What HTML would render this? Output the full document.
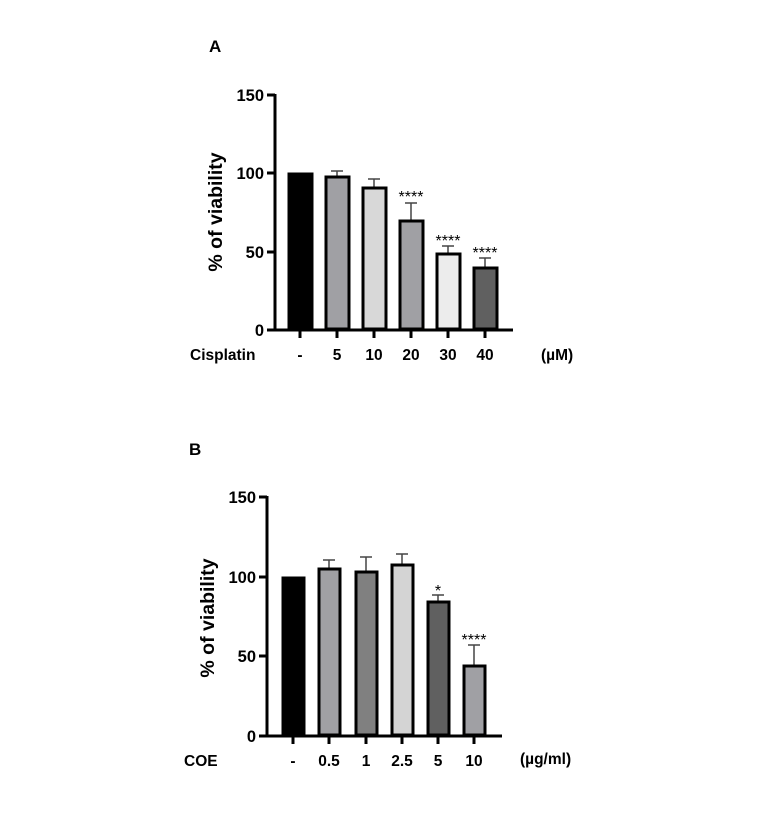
<!DOCTYPE html>
<html><head><style>body{margin:0;background:#fff}svg{display:block}</style></head><body>
<svg width="760" height="826" xmlns="http://www.w3.org/2000/svg" font-family="Liberation Sans, Arial, sans-serif" font-weight="bold">
<rect width="760" height="826" fill="#fff"/>
<text x="209" y="52" font-size="17">A</text>
<text x="189" y="455" font-size="17">B</text>
<!-- Chart A -->
<g stroke="#000" stroke-width="3">
<line x1="275" y1="94" x2="275" y2="331"/>
<line x1="274" y1="330" x2="513" y2="330"/>
<line x1="267" y1="95" x2="275" y2="95"/><line x1="267" y1="173" x2="275" y2="173"/><line x1="267" y1="252" x2="275" y2="252"/><line x1="267" y1="330" x2="275" y2="330"/>
<line x1="300" y1="330" x2="300" y2="338"/><line x1="337" y1="330" x2="337" y2="338"/><line x1="374" y1="330" x2="374" y2="338"/><line x1="411" y1="330" x2="411" y2="338"/><line x1="448" y1="330" x2="448" y2="338"/><line x1="485" y1="330" x2="485" y2="338"/>
</g>
<g font-size="16.5" text-anchor="end"><text x="264" y="101">150</text><text x="264" y="179">100</text><text x="264" y="258">50</text><text x="264" y="336">0</text></g>
<text transform="translate(222,212) rotate(-90)" font-size="19.5" text-anchor="middle">% of viability</text>
<g stroke="#444" stroke-width="1.5">
<line x1="337" y1="171" x2="337" y2="180"/><line x1="331" y1="171" x2="343" y2="171"/>
<line x1="374" y1="179" x2="374" y2="188"/><line x1="368" y1="179" x2="380" y2="179"/>
<line x1="411" y1="203" x2="411" y2="221"/><line x1="405" y1="203" x2="417" y2="203"/>
<line x1="448" y1="246" x2="448" y2="254"/><line x1="442" y1="246" x2="454" y2="246"/>
<line x1="485" y1="258" x2="485" y2="268"/><line x1="479" y1="258" x2="491" y2="258"/>
</g>
<g stroke="#000" stroke-width="3">
<rect x="289" y="174" width="23" height="155" fill="#000"/>
<rect x="326" y="177" width="23" height="152" fill="#a0a0a4"/>
<rect x="363" y="188" width="23" height="141" fill="#d8d8d8"/>
<rect x="400" y="221" width="23" height="108" fill="#a0a0a4"/>
<rect x="437" y="254" width="23" height="75" fill="#ececec"/>
<rect x="474" y="268" width="23" height="61" fill="#606060"/>
</g>
<g font-size="16" font-weight="normal" text-anchor="middle"><text x="411" y="202">****</text><text x="448" y="246">****</text><text x="485" y="258">****</text></g>
<g font-size="15.5" text-anchor="middle"><text x="300" y="360">-</text><text x="337" y="360">5</text><text x="374" y="360">10</text><text x="411" y="360">20</text><text x="448" y="360">30</text><text x="485" y="360">40</text></g>
<text x="190" y="360" font-size="15.5">Cisplatin</text>
<text x="541" y="360" font-size="15.5">(µM)</text>
<!-- Chart B -->
<g stroke="#000" stroke-width="3">
<line x1="267" y1="496" x2="267" y2="737"/>
<line x1="266" y1="736" x2="502" y2="736"/>
<line x1="259" y1="497" x2="267" y2="497"/><line x1="259" y1="577" x2="267" y2="577"/><line x1="259" y1="656" x2="267" y2="656"/><line x1="259" y1="736" x2="267" y2="736"/>
<line x1="293" y1="736" x2="293" y2="744"/><line x1="329" y1="736" x2="329" y2="744"/><line x1="366" y1="736" x2="366" y2="744"/><line x1="402" y1="736" x2="402" y2="744"/><line x1="438" y1="736" x2="438" y2="744"/><line x1="474" y1="736" x2="474" y2="744"/>
</g>
<g font-size="16.5" text-anchor="end"><text x="256" y="503">150</text><text x="256" y="583">100</text><text x="256" y="662">50</text><text x="256" y="742">0</text></g>
<text transform="translate(214,618) rotate(-90)" font-size="19.5" text-anchor="middle">% of viability</text>
<g stroke="#444" stroke-width="1.5">
<line x1="329" y1="560" x2="329" y2="569"/><line x1="323" y1="560" x2="335" y2="560"/>
<line x1="366" y1="557" x2="366" y2="572"/><line x1="360" y1="557" x2="372" y2="557"/>
<line x1="402" y1="554" x2="402" y2="565"/><line x1="396" y1="554" x2="408" y2="554"/>
<line x1="438" y1="595" x2="438" y2="601"/><line x1="432" y1="595" x2="444" y2="595"/>
<line x1="474" y1="645" x2="474" y2="666"/><line x1="468" y1="645" x2="480" y2="645"/>
</g>
<g stroke="#000" stroke-width="3">
<rect x="283" y="578" width="21" height="157" fill="#000"/>
<rect x="319" y="569" width="21" height="166" fill="#a0a0a4"/>
<rect x="356" y="572" width="21" height="163" fill="#808080"/>
<rect x="392" y="565" width="21" height="170" fill="#d4d4d4"/>
<rect x="428" y="602" width="21" height="133" fill="#606060"/>
<rect x="464" y="666" width="21" height="69" fill="#a0a0a4"/>
</g>
<g font-size="16" font-weight="normal" text-anchor="middle"><text x="438" y="596">*</text><text x="474" y="645">****</text></g>
<g font-size="15.5" text-anchor="middle"><text x="293" y="766">-</text><text x="329" y="766">0.5</text><text x="366" y="766">1</text><text x="402" y="766">2.5</text><text x="438" y="766">5</text><text x="474" y="766">10</text></g>
<text x="184" y="766" font-size="15.5">COE</text>
<text x="520" y="764" font-size="15.5">(µg/ml)</text>
</svg>
</body></html>
